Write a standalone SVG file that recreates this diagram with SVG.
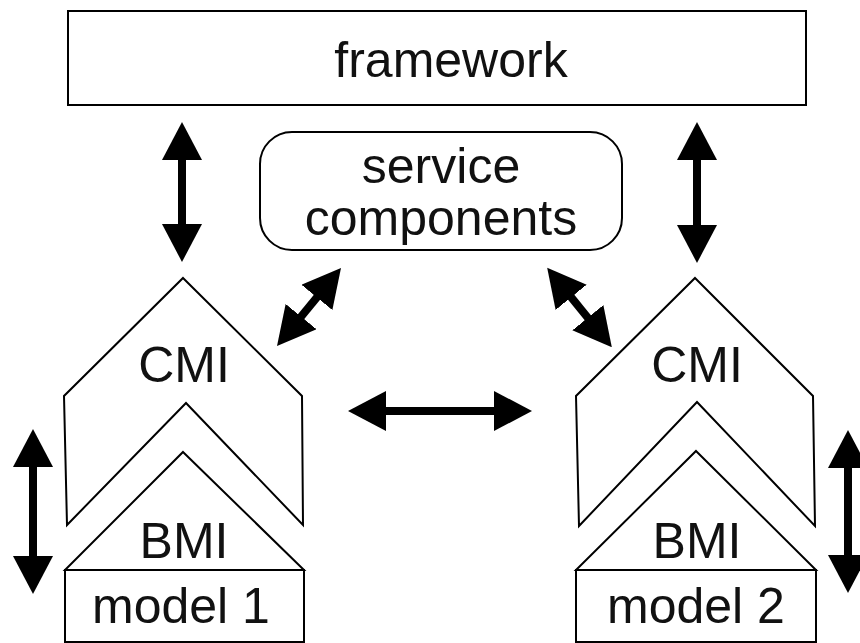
<svg xmlns="http://www.w3.org/2000/svg" width="860" height="643" viewBox="0 0 860 643">
  <defs>
    <style>
      .shape { fill: #fff; stroke: #000; stroke-width: 2; stroke-linejoin: miter; }
      .label { font-family: "Liberation Sans", Arial, Helvetica, sans-serif; font-size: 50px; fill: #111; text-anchor: middle; }
      .conn { stroke: #000; stroke-width: 8; fill: none; marker-start: url(#head); marker-end: url(#head); }
    </style>
    <marker id="head" viewBox="0 0 38 40" markerWidth="38" markerHeight="40" markerUnits="userSpaceOnUse" refX="18" refY="20" orient="auto-start-reverse">
      <path d="M0,0 L38,20 L0,40 Z" fill="#000"/>
    </marker>
  </defs>
  <rect width="860" height="643" fill="#fff"/>

  <g id="framework">
    <rect class="shape" x="68" y="11" width="738" height="94"/>
    <text class="label" x="451" y="77">framework</text>
  </g>

  <g id="service-components">
    <rect class="shape" x="260" y="132" width="362" height="118" rx="32" ry="32"/>
    <text class="label" x="441" y="183">service</text>
    <text class="label" x="441" y="235">components</text>
  </g>

  <g id="cmi-1">
    <polygon class="shape" points="183,278 302,396 303,525 186,403 67,525 64,396"/>
    <text class="label" x="184" y="382">CMI</text>
  </g>
  <g id="bmi-1">
    <polygon class="shape" points="183,452 304,570 65,570"/>
    <text class="label" x="184" y="558">BMI</text>
  </g>
  <g id="model-1">
    <rect class="shape" x="65" y="570" width="239" height="72"/>
    <text class="label" x="181" y="623">model 1</text>
  </g>

  <g id="cmi-2">
    <polygon class="shape" points="695,278 813,396 815,526 697,402 579,526 576,396"/>
    <text class="label" x="697" y="382">CMI</text>
  </g>
  <g id="bmi-2">
    <polygon class="shape" points="696,451 816,570 576,570"/>
    <text class="label" x="697" y="558">BMI</text>
  </g>
  <g id="model-2">
    <rect class="shape" x="576" y="570" width="240" height="72"/>
    <text class="label" x="696" y="623">model 2</text>
  </g>

  <g id="connectors">
    <line class="conn" x1="182" y1="142" x2="182" y2="242"/>
    <line class="conn" x1="697" y1="142" x2="697" y2="243"/>
    <line class="conn" x1="328.3" y1="283.5" x2="289.7" y2="330.5"/>
    <line class="conn" x1="559.8" y1="283.3" x2="599.2" y2="331.7"/>
    <line class="conn" x1="368" y1="411" x2="512" y2="411"/>
    <line class="conn" x1="33" y1="449" x2="33" y2="574"/>
    <line class="conn" x1="848" y1="450" x2="848" y2="573"/>
  </g>
</svg>
